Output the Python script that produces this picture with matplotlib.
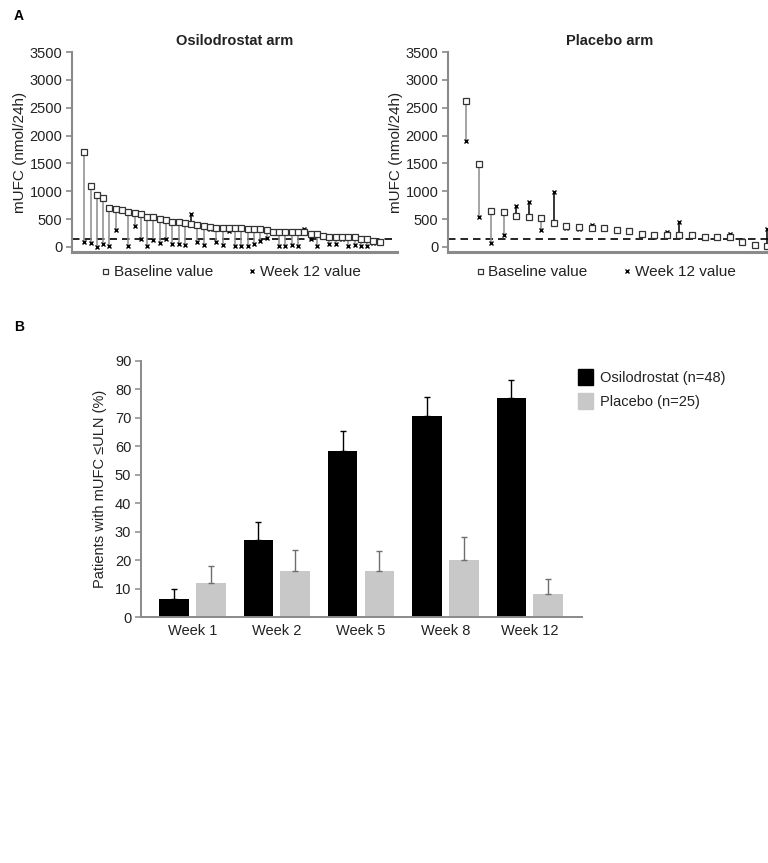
import matplotlib
matplotlib.use("Agg")
import matplotlib.pyplot as plt
import numpy as np
from matplotlib.lines import Line2D
from matplotlib.patches import Patch

plt.rcParams['font.family'] = ['Liberation Sans', 'DejaVu Sans']

# ---------------- Data ----------------
osilo_baseline = [1710, 1100, 940, 880, 700, 690, 660, 630, 613, 600, 542, 530,
                  500, 482, 440, 440, 423, 405, 400, 375, 363, 340, 340, 340,
                  340, 340, 315, 315, 315, 304, 275, 275, 262, 262, 262, 262,
                  226, 226, 202, 184, 173, 173, 173, 173, 149, 137, 113, 89]
osilo_week12 = [85, 65, 5, 54, 20, 300, None, 20, 380, 137, 20, 125,
                65, 137, 54, 54, 36, 600, 95, 36, 320, 95, 36, 280,
                18, 18, 18, 54, 113, 155, None, 20, 18, 36, 20, 315,
                137, 20, None, 54, 54, 137, 18, 36, 18, 20, 65, None]

placebo_baseline = [2620, 1490, 650, 630, 560, 541, 512, 423, 381, 363, 345, 333,
                    304, 286, 240, 214, 214, 214, 214, 184, 173, 184, 95, 40, 25]
placebo_week12 = [1900, 541, 77, 214, 738, 810, 304, 988, 345, 316, 387, 345,
                  304, 286, None, 184, 262, 452, 232, 184, 160, 230, 125, 36, 320]

uln = 138

weeks = ["Week 1", "Week 2", "Week 5", "Week 8", "Week 12"]
osilo_pct = [6.3, 27.1, 58.3, 70.8, 77.1]
osilo_err = [3.6, 6.4, 7.2, 6.6, 6.1]
placebo_pct = [12.0, 16.0, 16.0, 20.0, 8.0]
placebo_err = [6.0, 7.6, 7.3, 8.0, 5.4]

W, H = 768, 863
fig = plt.figure(figsize=(W / 100, H / 100), dpi=100)


def px_axes(x0, x1, ytop, ybot):
    return fig.add_axes([x0 / W, (H - ybot) / H, (x1 - x0) / W, (ybot - ytop) / H])


spine_col = '#8a8a8a'
text_col = '#222222'


def panel_a(ax, base, wk, title, xlim):
    n = len(base)
    xs = np.arange(n)
    for x, b, w in zip(xs, base, wk):
        if w is None:
            continue
        col = 'black' if w > b else '#8c8c8c'
        ax.plot([x, x], [b, w], color=col, lw=1.1, zorder=2)
    ax.axhline(uln, color='black', lw=1.2, dashes=(4.5, 3), zorder=1)
    ax.plot(xs, base, ls='none', marker='s', ms=4.0, mfc='white', mec='#333333',
            mew=0.9, zorder=4)
    wx = [x for x, w in zip(xs, wk) if w is not None]
    wy = [w for w in wk if w is not None]
    ax.plot(wx, wy, ls='none', marker='x', ms=3.3, mec='black', mew=1.0, zorder=3)
    ax.set_xlim(*xlim)
    ax.set_ylim(-90, 3500)
    ax.set_yticks(range(0, 3501, 500))
    ax.set_xticks([])
    for s in ['top', 'right']:
        ax.spines[s].set_visible(False)
    ax.spines['left'].set_color(spine_col)
    ax.spines['left'].set_linewidth(1.5)
    ax.spines['bottom'].set_color(spine_col)
    ax.spines['bottom'].set_linewidth(2.2)
    ax.tick_params(axis='y', colors=spine_col, length=4, width=1.2, labelsize=10.5,
                   labelcolor=text_col, pad=3)
    ax.set_ylabel('mUFC (nmol/24h)', fontsize=11, color=text_col, labelpad=2)
    ax.set_title(title, fontsize=10.5, fontweight='bold', color=text_col, pad=5)
    handles = [Line2D([], [], ls='none', marker='s', ms=3.6, mfc='white', mec='#333333', mew=0.9),
               Line2D([], [], ls='none', marker='x', ms=3.0, mec='black', mew=1.0)]
    leg = ax.legend(handles, ['Baseline value', 'Week 12 value'], ncol=2, loc='center',
                    bbox_to_anchor=(0.49, -0.1), frameon=False, fontsize=11,
                    handlelength=0.5, handletextpad=0.3, columnspacing=2.3)
    for t in leg.get_texts():
        t.set_color(text_col)


axL = px_axes(72, 397, 52, 252)
panel_a(axL, osilo_baseline, osilo_week12, 'Osilodrostat arm', (-1.96, 49.75))
axR = px_axes(448, 772, 52, 252)
panel_a(axR, placebo_baseline, placebo_week12, 'Placebo arm', (-1.43, 24.37))
axR.get_legend().set_bbox_to_anchor((0.488, -0.1))

# ---------------- Panel B ----------------
axB = px_axes(141, 582, 361, 617)
xg = np.arange(len(weeks))
bw = 0.35
off = 0.218
axB.bar(xg - off, osilo_pct, width=bw, color='black', zorder=2,
        yerr=[np.zeros(len(weeks)), osilo_err], ecolor='black',
        error_kw=dict(capsize=2.2, elinewidth=1.0, capthick=1.0))
axB.bar(xg + off, placebo_pct, width=bw, color='#c8c8c8', zorder=2,
        yerr=[np.zeros(len(weeks)), placebo_err], ecolor='#6e6e6e',
        error_kw=dict(capsize=2.2, elinewidth=1.0, capthick=1.0))
axB.set_xlim(-0.61, 4.62)
axB.set_ylim(0, 90)
axB.set_yticks(range(0, 91, 10))
axB.set_xticks(xg)
axB.set_xticklabels(weeks)
for s in ['top', 'right']:
    axB.spines[s].set_visible(False)
axB.spines['left'].set_color(spine_col)
axB.spines['left'].set_linewidth(1.4)
axB.spines['bottom'].set_color(spine_col)
axB.spines['bottom'].set_linewidth(1.4)
axB.tick_params(axis='y', colors=spine_col, length=4, width=1.1, labelsize=10.5,
                labelcolor=text_col, pad=3)
axB.tick_params(axis='x', length=0, labelsize=10.5, labelcolor=text_col, pad=5)
axB.set_ylabel('Patients with mUFC \u2264ULN (%)', fontsize=10.5, color=text_col, labelpad=6)

legB = fig.legend([Patch(color='black'), Patch(color='#c8c8c8')],
                  ['Osilodrostat (n=48)', 'Placebo (n=25)'],
                  loc='upper left', bbox_to_anchor=(565 / W, 1 - 356 / H),
                  frameon=False, fontsize=10.5, handlelength=1.0, handleheight=1.3,
                  handletextpad=0.5, labelspacing=0.55)
for t in legB.get_texts():
    t.set_color(text_col)

fig.text(14 / W, 1 - 16 / H, 'A', fontsize=10, fontweight='bold', va='center', ha='left')
fig.text(14 / W, 1 - 327 / H, 'B', fontsize=10, fontweight='bold', va='center', ha='left')

fig.savefig('out.png', dpi=100)
